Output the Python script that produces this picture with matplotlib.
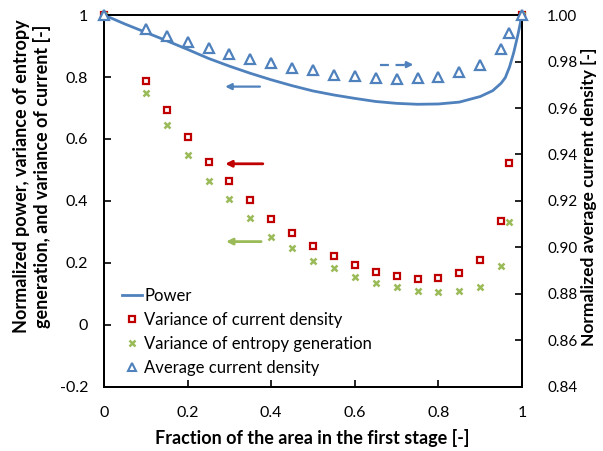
import matplotlib

matplotlib.use("Agg")

import matplotlib.pyplot as plt
from matplotlib.lines import Line2D

plt.rcParams["font.family"] = ["Lato", "DejaVu Sans"]

# Fraction of the area in the first stage
frac = [0, 0.10, 0.15, 0.20, 0.25, 0.30, 0.35, 0.40, 0.45, 0.50, 0.55,
        0.60, 0.65, 0.70, 0.75, 0.80, 0.85, 0.90, 0.95, 0.97, 1.0]
var_current = [1.0, 0.787, 0.695, 0.607, 0.527, 0.465, 0.404, 0.341, 0.298,
               0.254, 0.224, 0.194, 0.172, 0.157, 0.149, 0.151, 0.167, 0.208,
               0.337, 0.521, 1.0]
var_entropy = [1.0, 0.747, 0.645, 0.549, 0.466, 0.405, 0.345, 0.284, 0.247,
               0.205, 0.184, 0.155, 0.136, 0.123, 0.110, 0.107, 0.108, 0.123,
               0.189, 0.331, 1.0]
avg_current = [1.0, 0.9941, 0.9911, 0.9884, 0.9859, 0.9832, 0.9809, 0.9794,
               0.9773, 0.9762, 0.9744, 0.9736, 0.9727, 0.9723, 0.9730, 0.9735,
               0.9754, 0.9786, 0.9855, 0.9923, 1.0]

# Normalized power (continuous curve)
frac_power = [0, 0.05, 0.10, 0.15, 0.20, 0.25, 0.30, 0.35, 0.40, 0.45, 0.50,
              0.55, 0.60, 0.65, 0.70, 0.75, 0.80, 0.85, 0.90, 0.93, 0.95,
              0.96, 0.97, 0.98, 0.99, 1.0]
power = [1.0, 0.971, 0.944, 0.917, 0.889, 0.860, 0.835, 0.812, 0.791, 0.772,
         0.755, 0.742, 0.731, 0.721, 0.715, 0.712, 0.713, 0.719, 0.737, 0.756,
         0.780, 0.798, 0.832, 0.878, 0.935, 1.0]

BLUE = "#4F81BD"
RED = "#C00000"
GREEN = "#9BBB59"

fig = plt.figure(figsize=(6.03, 4.51), dpi=100)
ax = fig.add_axes([0.1725, 0.142, 0.6932, 0.8247])
ax2 = ax.twinx()

ax.plot(frac_power, power, color=BLUE, lw=2.0, zorder=2)
ax.plot(frac, var_current, ls="none", marker="s", ms=5, mfc="white",
        mec=RED, mew=1.6, clip_on=False, zorder=3)
ax.plot(frac, var_entropy, ls="none", marker="x", ms=4, mec=GREEN,
        mew=1.8, clip_on=False, zorder=3)
ax2.plot(frac, avg_current, ls="none", marker="^", ms=6.5, mfc="white",
         mec=BLUE, mew=1.6, clip_on=False, zorder=3)

ax.set_xlim(0, 1)
ax.set_ylim(-0.2, 1.0)
ax2.set_ylim(0.84, 1.0)
ax.set_xticks([0, 0.2, 0.4, 0.6, 0.8, 1.0])
ax.set_xticklabels(["0", "0.2", "0.4", "0.6", "0.8", "1"])
ax.set_yticks([-0.2, 0, 0.2, 0.4, 0.6, 0.8, 1.0])
ax.set_yticklabels(["-0.2", "0", "0.2", "0.4", "0.6", "0.8", "1"])
ax2.set_yticks([0.84, 0.86, 0.88, 0.90, 0.92, 0.94, 0.96, 0.98, 1.00])
ax2.set_yticklabels([f"{v:.2f}" for v in ax2.get_yticks()])

for a in (ax, ax2):
    for s in a.spines.values():
        s.set_linewidth(1.4)
ax.tick_params(direction="in", length=5, width=1.2, labelsize=11.5, pad=11.5)
ax.tick_params(axis="x", pad=14)
ax2.tick_params(direction="in", length=5, width=1.2, labelsize=11, pad=18)

# Arrows pointing each series to its axis
arrow_kw = dict(arrowstyle="-|>", mutation_scale=9, shrinkA=0, shrinkB=0)
ax.annotate("", xy=(0.29, 0.769), xytext=(0.373, 0.769),
            arrowprops=dict(color=BLUE, lw=1.6, **arrow_kw))
ax.annotate("", xy=(0.29, 0.520), xytext=(0.380, 0.520),
            arrowprops=dict(color=RED, lw=2.0, **arrow_kw))
ax.annotate("", xy=(0.292, 0.269), xytext=(0.376, 0.269),
            arrowprops=dict(color=GREEN, lw=2.0, **arrow_kw))
ax.plot([0.660, 0.725], [0.840, 0.840], color=BLUE, lw=1.6, ls=(0, (4, 3)))
ax.annotate("", xy=(0.740, 0.840), xytext=(0.720, 0.840),
            arrowprops=dict(color=BLUE, lw=1.6, **arrow_kw))

fig.text(0.5175, 0.029, "Fraction of the area in the first stage [-]",
         ha="center", va="center", fontsize=13, fontweight="bold")
fig.text(0.053, 0.61,
         "Normalized power, variance of entropy\ngeneration, and variance of current [-]",
         ha="center", va="center", rotation=90, fontsize=13,
         fontweight="bold", linespacing=1.2)
fig.text(0.977, 0.563, "Normalized average current density [-]",
         ha="center", va="center", rotation=90, fontsize=12.5,
         fontweight="bold")

handles = [
    Line2D([], [], color=BLUE, lw=2.0),
    Line2D([], [], ls="none", marker="s", ms=5, mfc="white", mec=RED, mew=1.6),
    Line2D([], [], ls="none", marker="x", ms=4, mec=GREEN, mew=1.8),
    Line2D([], [], ls="none", marker="^", ms=6, mfc="white", mec=BLUE, mew=1.5),
]
labels = ["Power", "Variance of current density",
          "Variance of entropy generation", "Average current density"]
ax2.legend(handles, labels, loc="lower left", bbox_to_anchor=(0.028, 0.012),
           frameon=False, fontsize=12, handlelength=1.2, handletextpad=0.1,
           labelspacing=0.47, borderaxespad=0)

fig.savefig("out.png", dpi=100)
